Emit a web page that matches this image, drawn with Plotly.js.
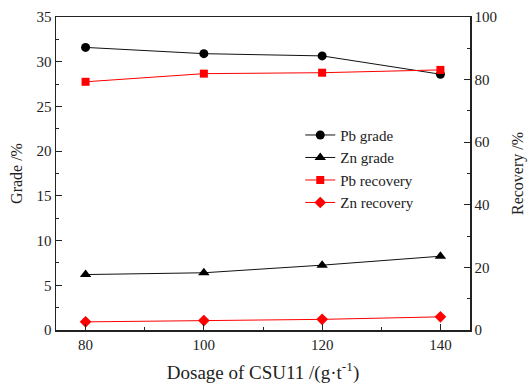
<!DOCTYPE html>
<html>
<head>
<meta charset="utf-8">
<script src="https://cdn.plot.ly/plotly-3.0.1.min.js"></script>
<style>html,body{margin:0;padding:0;background:#fff;}#chart{width:529px;height:384px;}</style>
</head>
<body>
<div id="chart"></div>
<script>
const dosage = [80, 100, 120, 140];
const pbGrade = [31.6, 30.9, 30.65, 28.6];
const znGrade = [6.2, 6.4, 7.25, 8.25];
const pbRecovery = [79.3, 81.9, 82.2, 83.1];
const znRecovery = [2.6, 3.0, 3.4, 4.2];

const font = {family: '"Liberation Serif", "Times New Roman", serif', color: '#222'};

const traces = [
  {x: dosage, y: pbGrade, name: 'Pb grade', mode: 'lines+markers', yaxis: 'y',
   line: {color: '#111', width: 1}, marker: {symbol: 'circle', size: 9, color: '#000'}},
  {x: dosage, y: znGrade, name: 'Zn grade', mode: 'lines+markers', yaxis: 'y',
   line: {color: '#111', width: 1}, marker: {symbol: 'triangle-up', size: 10, color: '#000'}},
  {x: dosage, y: pbRecovery, name: 'Pb recovery', mode: 'lines+markers', yaxis: 'y2',
   line: {color: '#ff0000', width: 1}, marker: {symbol: 'square', size: 8, color: '#ff0000'}},
  {x: dosage, y: znRecovery, name: 'Zn recovery', mode: 'lines+markers', yaxis: 'y2',
   line: {color: '#ff0000', width: 1}, marker: {symbol: 'diamond', size: 9, color: '#ff0000'}}
];

const layout = {
  width: 529, height: 384,
  margin: {l: 56, r: 59, t: 17, b: 54},
  paper_bgcolor: '#fff', plot_bgcolor: '#fff',
  font: Object.assign({size: 14}, font),
  showlegend: true,
  legend: {x: 0.59, y: 0.675, xanchor: 'left', yanchor: 'top', bgcolor: 'rgba(0,0,0,0)',
           font: Object.assign({size: 15}, font), tracegroupgap: 0, itemwidth: 30},
  xaxis: {
    range: [75, 145], tickvals: dosage, ticks: 'inside', ticklen: 6, tickcolor: '#222',
    showline: true, linecolor: '#222', linewidth: 1.5, mirror: true, showgrid: false, zeroline: false,
    minor: {dtick: 10, tick0: 0, ticks: 'inside', ticklen: 3, tickcolor: '#222'},
    tickfont: Object.assign({size: 15}, font),
    title: {text: 'Dosage of CSU11 /(g·t<sup>-1</sup>)', font: Object.assign({size: 19}, font), standoff: 14}
  },
  yaxis: {
    range: [0, 35], dtick: 5, ticks: 'inside', ticklen: 6, tickcolor: '#222',
    showline: true, linecolor: '#222', linewidth: 1.5, showgrid: false, zeroline: false,
    minor: {dtick: 2.5, ticks: 'inside', ticklen: 3, tickcolor: '#222'},
    tickfont: Object.assign({size: 15}, font),
    title: {text: 'Grade /%', font: Object.assign({size: 16}, font), standoff: 10}
  },
  yaxis2: {
    range: [0, 100], dtick: 20, overlaying: 'y', side: 'right', ticks: 'inside', ticklen: 6, tickcolor: '#222',
    showline: true, linecolor: '#222', linewidth: 1.5, showgrid: false, zeroline: false,
    minor: {dtick: 10, ticks: 'inside', ticklen: 3, tickcolor: '#222'},
    tickfont: Object.assign({size: 15}, font),
    title: {text: 'Recovery /%', font: Object.assign({size: 16}, font), standoff: 16}
  }
};

Plotly.newPlot('chart', traces, layout, {displayModeBar: false, staticPlot: true});
</script>
</body>
</html>
